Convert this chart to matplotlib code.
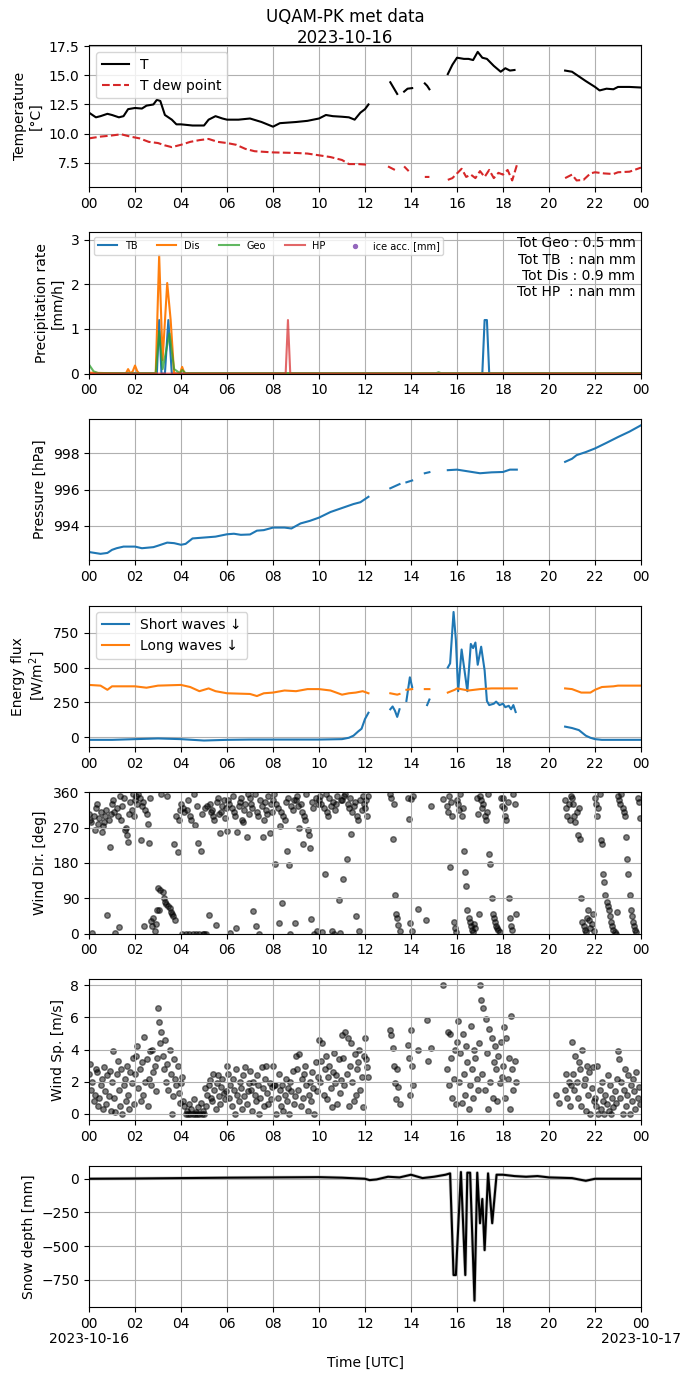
import numpy as np
import matplotlib
matplotlib.use("Agg")
import matplotlib.pyplot as plt
import matplotlib.transforms as mtransforms

nan = np.nan

# ---- temperature ----
t_temp = [0.0, 0.3, 0.5, 0.8, 1.0, 1.3, 1.5, 1.7, 2.0, 2.3, 2.5, 2.8, 2.95, 3.1, 3.3, 3.6, 3.8, 4.0, 4.5, 5.0,
          5.2, 5.5, 5.8, 6.0, 6.5, 7.0, 7.5, 8.0, 8.3, 9.0, 9.5, 10.0, 10.3, 10.6, 11.0, 11.3, 11.55, 11.8, 12.0, 12.15,
          12.6, 13.1, 13.25, 13.4, 13.55, 13.7, 13.85, 14.05, 14.3, 14.6, 14.7, 14.8, 15.2,
          15.6, 15.8, 16.0, 16.3, 16.5, 16.7, 16.9, 17.1, 17.3, 17.6, 17.9, 18.1, 18.3, 18.5, 19.5,
          20.7, 21.0, 21.3, 21.6, 22.0, 22.2, 22.5, 22.8, 23.0, 23.5, 24.0]
temp = [11.8, 11.4, 11.5, 11.7, 11.6, 11.4, 11.5, 12.1, 12.2, 12.15, 12.4, 12.5, 12.9, 12.8, 11.6, 11.2, 10.8, 10.8, 10.7, 10.7,
        11.2, 11.5, 11.3, 11.2, 11.2, 11.3, 11.0, 10.6, 10.9, 11.0, 11.1, 11.3, 11.6, 11.5, 11.45, 11.4, 11.2, 11.8, 12.1, 12.5,
        nan, 14.4, 13.9, 13.4, nan, 13.6, 13.85, 13.9, nan, 14.3, 14.1, 13.8, nan,
        15.1, 15.9, 16.5, 16.4, 16.4, 16.3, 17.0, 16.5, 16.4, 15.8, 15.3, 15.6, 15.4, 15.45, nan,
        15.4, 15.3, 14.9, 14.5, 14.0, 13.7, 13.85, 13.8, 14.0, 14.0, 13.95]

t_dew = [0.0, 0.5, 1.0, 1.4, 1.8, 2.2, 2.6, 3.0, 3.3, 3.6, 4.0, 4.4, 4.8, 5.2, 5.6, 6.0, 6.4, 6.8, 7.2, 7.6,
         8.0, 9.0, 9.5, 10.0, 10.5, 11.0, 11.3, 11.7, 12.1, 12.6, 13.0, 13.3, 13.45, 13.7, 13.9, 14.2, 14.6, 14.8, 15.2,
         15.6, 15.8, 16.0, 16.2, 16.4, 16.6, 16.8, 17.0, 17.2, 17.4, 17.6, 17.8, 18.0, 18.2, 18.4, 18.6, 19.5,
         20.7, 21.0, 21.2, 21.5, 21.8, 22.0, 22.4, 22.8, 23.0, 23.5, 24.0]
dew = [9.6, 9.75, 9.85, 9.95, 9.75, 9.6, 9.3, 9.2, 9.0, 8.85, 9.05, 9.3, 9.45, 9.55, 9.3, 9.2, 9.05, 8.7, 8.5, 8.45,
       8.4, 8.35, 8.3, 8.15, 8.0, 7.75, 7.4, 7.4, 7.35, nan, 7.2, 6.9, nan, 7.2, 6.8, nan, 6.3, 6.3, nan,
       6.05, 6.2, 6.6, 7.0, 6.3, 6.5, 6.2, 6.8, 6.3, 6.9, 6.2, 6.65, 6.5, 6.9, 6.0, 7.3, nan,
       6.2, 6.5, 6.0, 6.05, 6.6, 6.7, 6.6, 6.55, 6.7, 6.75, 7.1]

# ---- precipitation ----
t_tb = [0, 2.95, 3.05, 3.15, 3.3, 3.45, 3.6, 17.1, 17.2, 17.3, 17.4, 24]
p_tb = [0, 0, 1.2, 0, 0, 1.2, 0, 0, 1.2, 1.2, 0, 0]
t_dis = [0, 1.6, 1.7, 1.8, 1.9, 2.0, 2.1, 2.2, 2.9, 3.05, 3.2, 3.4, 3.55, 3.7, 3.95, 4.05, 4.15, 24]
p_dis = [0.02, 0, 0.1, 0, 0.05, 0.18, 0.05, 0, 0, 2.65, 0.3, 2.03, 1.2, 0, 0, 0.15, 0, 0]
t_geo = [0, 0.2, 0.4, 2.9, 3.05, 3.2, 3.5, 3.7, 3.95, 4.05, 4.2, 15.1, 15.2, 15.3, 24]
p_geo = [0.2, 0.05, 0.01, 0.01, 0.95, 0.1, 0.9, 0.1, 0.01, 0.08, 0.01, 0.01, 0.03, 0.01, 0.01]
t_hp = [0, 8.55, 8.65, 8.75, 24]
p_hp = [0, 0, 1.2, 0, 0]
t_ice = []
ice_acc = []
totals = "Tot Geo : 0.5 mm\nTot TB  : nan mm\nTot Dis : 0.9 mm\nTot HP  : nan mm"

# ---- pressure ----
t_pres = [0, 0.5, 0.8, 1.0, 1.2, 1.5, 2.0, 2.3, 2.8, 3.0, 3.4, 3.7, 4.0, 4.2, 4.5, 5.0, 5.5, 6.0, 6.3, 6.6,
          7.0, 7.3, 7.6, 8.0, 8.5, 8.8, 9.2, 9.6, 10.0, 10.5, 11.0, 11.5, 11.8, 12.15, 12.6,
          13.1, 13.5, 13.6, 13.8, 14.05, 14.3, 14.6, 14.8, 15.2, 15.6, 16.0, 16.5, 17.0, 17.5, 18.0, 18.3, 18.6, 19.5,
          20.7, 21.0, 21.2, 21.6, 22.0, 22.5, 23.0, 23.5, 24.0]
pres = [992.55, 992.45, 992.5, 992.67, 992.76, 992.85, 992.85, 992.76, 992.82, 992.9, 993.07, 993.04, 992.95, 993.0,
        993.3, 993.35, 993.4, 993.53, 993.56, 993.5, 993.52, 993.73, 993.76, 993.9, 993.9, 993.85, 994.13, 994.27,
        994.45, 994.76, 994.98, 995.2, 995.3, 995.6, nan,
        996.07, 996.3, nan, 996.4, 996.5, nan, 996.9, 996.96, nan, 997.07, 997.1, 997.0, 996.9, 996.95, 996.97,
        997.1, 997.1, nan, 997.53, 997.7, 997.9, 998.07, 998.27, 998.58, 998.9, 999.2, 999.55]

# ---- radiation ----
t_sw = [0, 1, 2, 3, 4, 5, 6, 7, 8, 9, 10, 11, 11.3, 11.5, 11.7, 11.85, 12.0, 12.15, 12.6,
        13.1, 13.2, 13.3, 13.4, 13.5, 13.65, 13.8, 13.95, 14.05, 14.3, 14.7, 14.8, 15.2,
        15.6, 15.7, 15.85, 15.95, 16.05, 16.2, 16.35, 16.45, 16.6, 16.7, 16.8, 16.9, 17.05, 17.2, 17.3, 17.4,
        17.6, 17.7, 17.85, 18.0, 18.1, 18.25, 18.35, 18.45, 18.55, 19.5,
        20.7, 21.0, 21.3, 21.6, 21.8, 22.0, 22.3, 23.0, 24.0]
sw = [-20, -20, -15, -10, -15, -25, -20, -18, -18, -18, -18, -15, -5, 10, 40, 60, 130, 175, nan,
      200, 220, 190, 145, 200, nan, 260, 430, 360, nan, 230, 270, nan,
      500, 530, 900, 700, 330, 630, 450, 330, 670, 640, 680, 520, 650, 480, 260, 230,
      240, 255, 230, 240, 215, 225, 200, 230, 180, nan,
      75, 65, 50, 10, -5, -15, -20, -20, -20]
t_lw = [0, 0.5, 0.8, 1.0, 2.0, 2.5, 3.0, 4.0, 4.4, 4.8, 5.2, 5.5, 6.0, 7.0, 7.3, 7.6, 8.0, 8.5, 9.0, 9.5,
        10.0, 10.5, 11.0, 11.3, 11.6, 11.9, 12.15, 12.6, 13.1, 13.4, 13.5, 13.65, 13.8, 14.05, 14.3,
        14.6, 14.8, 15.2, 15.6, 15.9, 16.0, 16.5, 17.0, 17.5, 18.0, 18.6, 19.5,
        20.7, 21.0, 21.4, 21.8, 22.0, 22.3, 22.8, 23.0, 24.0]
lw = [375, 370, 340, 365, 365, 355, 370, 375, 360, 330, 350, 330, 315, 310, 295, 315, 320, 335, 330, 345,
      345, 335, 305, 315, 320, 330, 315, nan, 315, 305, 310, nan, 340, 345, nan,
      345, 345, nan, 320, 340, 350, 335, 345, 350, 350, 350, nan,
      350, 345, 320, 320, 340, 360, 365, 370, 370]

# ---- wind, 20 samples per hour (3 min), nan = missing ----
wdir_hourly = [
    [305, 290, 285, 2, 300, 263, 320, 330, 280, 295, 310, 260, 275, 285, 300, 315, 48, 290, 220, 305],
    [330, 340, 310, 2, 320, 300, 18, 350, 290, 325, 345, 263, 270, 250, 234, 305, 335, 315, 355, 300],
    [340, 350, 330, 355, 345, 238, 325, 335, 19, 315, 305, 280, 232, 345, 31, 20, 40, 6, 25, 60],
    [115, 60, 110, 355, 105, 90, 80, 75, 350, 70, 65, 55, 50, 45, 229, 35, 300, 208, 290, 315],
    [330, 0, 320, 310, 0, 315, 340, 0, 300, 290, 0, 355, 277, 0, 325, 232, 0, 210, 305, 0],
    [0, 320, 0, 325, 48, 330, 310, 315, 300, 290, 23, 335, 345, 305, 255, 310, 325, 340, 295, 320],
    [261, 340, 330, 2, 320, 350, 310, 300, 14, 258, 325, 335, 345, 290, 285, 315, 330, 247, 355, 305],
    [345, 330, 320, 57, 355, 19, 310, 300, 0, 340, 325, 247, 290, 335, 315, 305, 350, 255, 330, 310],
    [340, 355, 178, 330, 320, 27, 273, 310, 78, 300, 290, 335, 210, 345, 176, 0, 325, 315, 340, 27],
    [340, 350, 325, 270, 330, 310, 228, 300, 290, 355, 265, 250, 217, 38, 335, 320, 0, 345, 6, 330],
    [340, 350, 330, 3, 320, 152, 355, 310, 300, 345, 325, 8, 335, 0, 315, 330, 350, 86, 2, 340],
    [340, 138, 350, 355, 191, 330, 320, 345, 254, 310, 325, 335, 44, 300, 290, 8, 340, 315, 350, 330],
    [320, 340, 300, 350] + [nan] * 16,
    [nan, nan, 355, 345, 240, 330, 99, 50, 40, 23, 6, nan, nan, nan, nan, nan, nan, 345, 293, 27],
    [343, 6, 350, nan, nan, nan, 63, nan, nan, nan, nan, nan, nan, 35, nan, nan, nan, 326, nan, nan],
    [nan] * 8 + [343, nan, nan, 325, 310, 350, 170, 335, 300, 30, 15, 5],
    [340, 330, 315, 355, 300, 320, 210, 156, 122, 60, 40, 30, 20, 10, 5, 25, 15, 345, 305, 50],
    [350, 340, 320, 330, 300, 290, 310, 355, 204, 178, 92, 50, 40, 30, 20, 15, 10, 5, 345, 325],
    [345, 320, 300, 290, 335, 90, 40, 20, 10, 355, 330, 50] + [nan] * 8,
    [nan] * 20,
    [nan] * 14 + [340, 320, 300, 330, 290, 350],
    [345, 330, 300, 285, 310, 250, 320, 240, 90, 30, 20, 10, 5, 40, 60, 35, 15, 25, 50, 8],
    [345, 330, 300, 320, 355, 238, 229, 153, 132, 99, 80, 70, 60, 45, 30, 20, 10, 5, 0, 55],
    [350, 340, 330, 355, 320, 310, 300, 245, 191, 151, 99, 60, 45, 30, 20, 10, 5, 345, 335, 295],
]
wspd_hourly = [
    [2.5, 3.1, 1.5, 2.0, 0.8, 1.2, 2.8, 2.6, 0.5, 1.0, 1.8, 2.2, 0.3, 2.9, 1.4, 0.6, 2.4, 1.1, 2.7, 0.2],
    [2.0, 3.9, 1.0, 0.1, 2.5, 3.3, 1.5, 0.5, 2.8, 0.0, 1.8, 2.2, 0.8, 3.0, 1.2, 0.3, 2.6, 1.9, 3.5, 0.6],
    [2.5, 3.6, 4.2, 1.6, 2.8, 0.8, 3.2, 1.2, 4.8, 2.0, 3.4, 0.5, 2.2, 3.9, 1.8, 4.0, 2.6, 3.0, 1.4, 3.5],
    [6.6, 5.7, 4.4, 5.1, 3.6, 2.8, 4.6, 2.0, 3.1, 1.5, 4.0, 2.5, 0.0, 1.1, 3.4, 2.2, 1.8, 3.0, 1.3, 0.7],
    [1.9, 2.3, 0.8, 0.5, 0.0, 0.2, 0.0, 0.6, 0.0, 0.3, 0.0, 0.9, 0.0, 0.1, 0.0, 0.4, 0.0, 0.7, 0.0, 0.2],
    [0.0, 1.6, 0.5, 1.2, 1.8, 2.1, 1.0, 0.8, 2.5, 1.5, 0.3, 1.9, 2.4, 1.1, 0.6, 1.7, 2.2, 1.3, 0.9, 1.4],
    [3.0, 2.5, 1.0, 1.8, 0.5, 2.2, 1.5, 0.0, 2.8, 1.2, 0.8, 2.0, 1.6, 0.3, 2.4, 1.1, 2.9, 0.6, 1.4, 1.9],
    [2.7, 1.5, 0.2, 2.0, 1.2, 0.8, 2.4, 1.8, 0.0, 1.0, 2.9, 1.6, 0.5, 2.2, 3.0, 1.3, 0.6, 1.9, 0.9, 1.7],
    [3.0, 1.8, 1.8, 0.0, 1.0, 2.5, 1.5, 0.5, 1.8, 0.2, 1.2, 2.2, 0.8, 1.6, 0.0, 2.0, 1.4, 2.7, 0.6, 1.1],
    [3.6, 2.8, 1.5, 3.7, 0.5, 2.2, 1.0, 2.5, 3.0, 1.8, 0.2, 1.2, 2.0, 0.8, 2.6, 1.6, 0.0, 3.2, 1.4, 2.3],
    [4.6, 2.0, 3.3, 4.4, 1.2, 2.8, 3.6, 0.9, 2.3, 3.0, 1.6, 0.4, 2.6, 3.8, 1.9, 2.4, 0.6, 3.4, 1.3, 2.1],
    [4.9, 3.5, 1.8, 5.1, 2.5, 4.7, 0.5, 3.0, 4.4, 2.0, 0.8, 3.7, 1.2, 2.8, 3.2, 4.0, 1.5, 2.3, 0.4, 3.6],
    [4.7, 3.4, 2.9, 2.3] + [nan] * 16,
    [nan, nan, 5.2, 4.9, 4.1, 3.0, 1.9, 0.9, 2.8, 1.7, 0.6] + [nan] * 6 + [4.3, 3.5, 1.2],
    [5.2, 3.0, 1.8, nan, nan, nan, 4.0] + [nan] * 7 + [5.85, 3.3, nan, 4.1, nan, nan],
    [nan] * 8 + [8.0, nan, nan, 2.8, 5.1, 1.8, 5.0, 3.5, 1.0, 2.2, 4.0, 0.6],
    [4.5, 5.8, 2.0, 3.8, 0.7, 5.0, 2.5, 1.2, 4.2, 3.2, 0.3, 1.8, 5.5, 2.8, 1.0, 4.0, 3.5, 2.2, 1.5, 4.4],
    [8.0, 7.1, 2.5, 6.6, 1.5, 5.9, 3.8, 0.3, 5.3, 2.0, 4.7, 1.0, 3.2, 4.2, 2.8, 0.8, 3.6, 1.9, 4.5, 2.3],
    [3.0, 5.4, 1.0, 4.7, 2.2, 3.5, 0.3, 6.1, 2.8, 1.5, 3.3, 2.0] + [nan] * 8,
    [nan] * 20,
    [nan] * 6 + [1.2, nan, nan, 0.7] + [nan] * 4 + [1.5, 2.5, 1.0, 2.0, 0.5, 1.8],
    [4.5, 2.5, 1.5, 3.6, 2.0, 1.0, 3.2, 2.8, 0.5, 4.0, 1.8, 2.2, 0.2, 3.0, 1.2, 2.6, 0.0, 1.6, 2.9, 0.8],
    [1.0, 0.5, 3.0, 0.0, 1.5, 0.3, 2.0, 0.8, 0.0, 1.2, 0.6, 2.4, 0.2, 1.8, 0.0, 1.0, 0.4, 1.4, 0.7, 2.2],
    [3.9, 3.4, 1.0, 2.0, 0.0, 1.5, 2.8, 0.5, 1.2, 2.4, 0.0, 1.8, 0.8, 2.2, 1.4, 0.3, 2.6, 1.0, 1.7, 0.6],
]

# ---- snow depth ----
t_snow = [0, 2, 4, 6, 8, 10, 11, 12, 12.2, 12.5, 13.0, 13.5, 14.0, 14.5, 15.0, 15.5, 15.7, 15.85, 15.95,
          16.17, 16.36, 16.45, 16.57, 16.76, 16.88, 17.0, 17.1, 17.2, 17.35, 17.53, 17.72, 18.0, 18.5,
          19.0, 19.5, 20.0, 21.0, 21.6, 22.0, 24.0]
snow = [0, 2, 5, 8, 10, 12, 8, 0, -10, -5, 15, 10, 30, 5, 15, 30, 40, -715, -715,
        50, -715, 45, 45, -905, 45, -330, -150, -530, 40, -330, 30, 30, 20,
        15, 20, 10, 5, -15, 0, 0]

day_labels = ["2023-10-16", "2023-10-17"]

# sample times for the wind observations
n_per_h = len(wdir_hourly[0])
t_wind = (np.arange(24)[:, None] + np.arange(n_per_h)[None, :] / n_per_h).ravel()
wdir = np.array(wdir_hourly, dtype=float).ravel()
wspd = np.array(wspd_hourly, dtype=float).ravel()

fig, axes = plt.subplots(7, 1, figsize=(6.9, 13.77), dpi=100)
fig.subplots_adjust(left=0.129, right=0.929, top=0.967, bottom=0.0508, hspace=0.32)
fig.suptitle("UQAM-PK met data\n2023-10-16", y=0.994)

ax = axes[0]
ax.plot(t_temp, temp, color="black", lw=1.5, label="T")
ax.plot(t_dew, dew, color="tab:red", ls="--", lw=1.5, label="T dew point")
ax.set_ylabel("Temperature\n[°C]")
ax.legend(loc="upper left")

ax = axes[1]
ax.plot(t_tb, p_tb, color="tab:blue", lw=1.5, label="TB")
ax.plot(t_dis, p_dis, color="tab:orange", lw=1.5, label="Dis")
ax.plot(t_geo, p_geo, color="tab:green", lw=1.5, alpha=0.75, label="Geo")
ax.plot(t_hp, p_hp, color="tab:red", lw=1.5, alpha=0.7, label="HP")
ax.scatter(t_ice, ice_acc, color="tab:purple", s=8, label="ice acc. [mm]")
ax.set_ylim(0, 3.17)
ax.set_ylabel("Precipitation rate\n[mm/h]")
ax.legend(loc="upper left", ncol=5, fontsize=7)
ax.text(0.99, 0.97, totals, transform=ax.transAxes, ha="right", va="top",
        multialignment="right", fontsize=10)

ax = axes[2]
ax.plot(t_pres, pres, color="tab:blue", lw=1.5)
ax.set_ylabel("Pressure [hPa]")

ax = axes[3]
ax.plot(t_sw, sw, color="tab:blue", lw=1.5, label="Short waves ↓")
ax.plot(t_lw, lw, color="tab:orange", lw=1.5, label="Long waves ↓")
ax.set_ylabel("Energy flux\n[W/m$^2$]")
ax.legend(loc="upper left")

ax = axes[4]
ax.scatter(t_wind, wdir, color="black", alpha=0.5, s=16)
ax.set_ylim(0, 360)
ax.set_yticks([0, 90, 180, 270, 360])
ax.set_ylabel("Wind Dir. [deg]")

ax = axes[5]
ax.scatter(t_wind, wspd, color="black", alpha=0.5, s=16)
ax.set_ylabel("Wind Sp. [m/s]")

ax = axes[6]
ax.plot(t_snow, snow, color="darkgray", lw=2.5, alpha=0.6)
ax.plot(t_snow, snow, color="black", lw=1.5)
ax.set_ylabel("Snow depth [mm]")
ax.set_xlabel("Time [UTC]", labelpad=18)

ticks = list(range(0, 25, 2))
labels = ["%02d" % (h % 24) for h in ticks]
for ax in axes:
    ax.set_xlim(0, 24)
    ax.set_xticks(ticks)
    ax.set_xticklabels(labels)
    ax.grid(True)

# day labels under the first and last tick of the bottom panel
trans = mtransforms.blended_transform_factory(axes[-1].transData, axes[-1].transAxes)
trans = trans + mtransforms.ScaledTranslation(0, -18 / 72, fig.dpi_scale_trans)
for x, lab in zip([0, 24], day_labels):
    axes[-1].text(x, 0, lab, transform=trans, ha="center", va="top", fontsize=10)

fig.savefig("out.png", dpi=100)
